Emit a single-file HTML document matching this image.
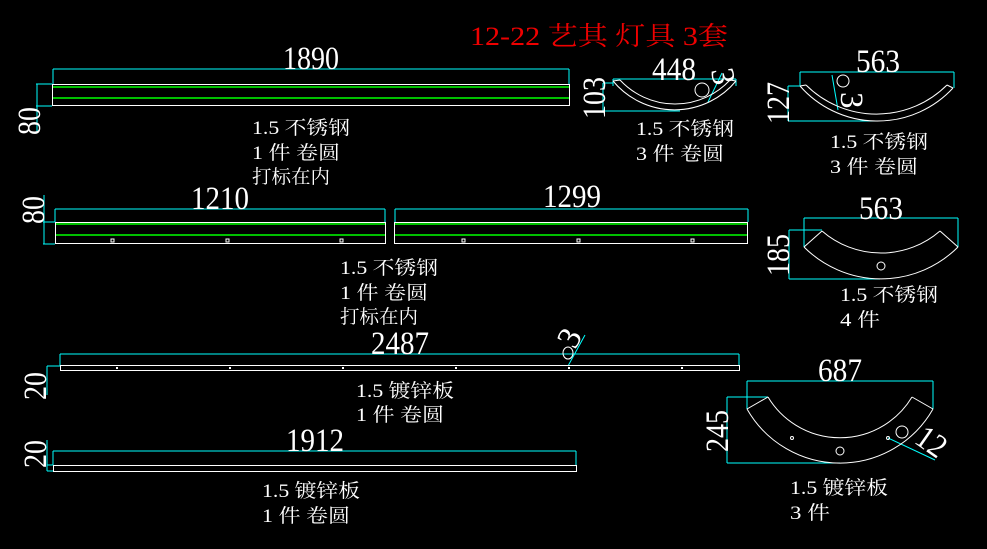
<!DOCTYPE html>
<html><head><meta charset="utf-8"><style>
html,body{margin:0;padding:0;background:#000;}
svg{display:block;}
.d{font-family:"Liberation Serif",serif;font-size:33px;fill:#fff;}
.t{font-family:"Liberation Serif","Noto Serif CJK SC",serif;font-size:19px;fill:#fff;}
.c{stroke:#0ff;stroke-width:1;fill:none;}
.w{stroke:#fff;stroke-width:1;fill:none;}
.g{stroke:#0f0;stroke-width:1.5;fill:none;}
</style></head><body>
<svg width="987" height="549" viewBox="0 0 987 549" xmlns="http://www.w3.org/2000/svg">
<rect width="987" height="549" fill="#000"/>
<text x="470" y="45" font-family="Liberation Serif,'Noto Serif CJK SC',serif" font-size="26" fill="#e00" textLength="258" lengthAdjust="spacingAndGlyphs">12-22 艺其 灯具 3套</text>

<!-- Part 1 -->
<path class="c" d="M53 69H569M53 69V84M569 69V84M36 84H52M36 106H52M37 84V133"/>
<rect class="w" x="52.5" y="84.5" width="517" height="21"/>
<path class="g" d="M53 87H569M53 98H569"/>
<text class="d" x="283" y="69" textLength="56" lengthAdjust="spacingAndGlyphs">1890</text>
<text class="d" transform="translate(40,135) rotate(-90)" textLength="28" lengthAdjust="spacingAndGlyphs">80</text>
<text class="t" x="252" y="134" textLength="98" lengthAdjust="spacingAndGlyphs">1.5 不锈钢</text>
<text class="t" x="252" y="159" textLength="88" lengthAdjust="spacingAndGlyphs">1 件 卷圆</text>
<text class="t" x="252" y="183" textLength="78" lengthAdjust="spacingAndGlyphs">打标在内</text>

<!-- Part 2 -->
<path class="c" d="M55 209H385M55 209V222M385 209V222M395 209H748M395 209V222M748 209V222M43 222H55M43 244H55M44 195V244"/>
<rect class="w" x="55.5" y="222.5" width="330" height="21"/>
<rect class="w" x="394.5" y="222.5" width="353" height="21"/>
<path class="g" d="M56 224H385M56 235H385M395 224H747M395 235H747"/>
<g fill="none" stroke="#fff" stroke-width="1">
<rect x="111" y="239" width="3" height="3"/><rect x="226" y="239" width="3" height="3"/><rect x="340" y="239" width="3" height="3"/>
<rect x="462" y="239" width="3" height="3"/><rect x="577" y="239" width="3" height="3"/><rect x="691" y="239" width="3" height="3"/>
</g>
<text class="d" x="191" y="209" textLength="58" lengthAdjust="spacingAndGlyphs">1210</text>
<text class="d" x="543" y="207" textLength="58" lengthAdjust="spacingAndGlyphs">1299</text>
<text class="d" transform="translate(44,224) rotate(-90)" textLength="28" lengthAdjust="spacingAndGlyphs">80</text>
<text class="t" x="340" y="274" textLength="98" lengthAdjust="spacingAndGlyphs">1.5 不锈钢</text>
<text class="t" x="340" y="299" textLength="88" lengthAdjust="spacingAndGlyphs">1 件 卷圆</text>
<text class="t" x="340" y="323" textLength="78" lengthAdjust="spacingAndGlyphs">打标在内</text>

<!-- Part 3 -->
<path class="c" d="M60 354H739M60 354V366M739 354V366M47 366H60M47 366V395M568 366L585 335"/>
<rect class="w" x="60.5" y="365.5" width="679" height="5"/>
<g fill="#fff"><rect x="116" y="367" width="2" height="2"/><rect x="229" y="367" width="2" height="2"/><rect x="342" y="367" width="2" height="2"/><rect x="455" y="367" width="2" height="2"/><rect x="568" y="367" width="2" height="2"/><rect x="681" y="367" width="2" height="2"/></g>
<ellipse class="w" cx="568" cy="353" rx="5" ry="6"/>
<text class="d" x="371" y="354" textLength="58" lengthAdjust="spacingAndGlyphs">2487</text>
<text class="d" transform="translate(579,343) rotate(-62)" text-anchor="middle" font-size="26">3</text>
<text class="d" transform="translate(46,400) rotate(-90)" textLength="28" lengthAdjust="spacingAndGlyphs">20</text>
<text class="t" x="356" y="397" textLength="98" lengthAdjust="spacingAndGlyphs">1.5 镀锌板</text>
<text class="t" x="356" y="421" textLength="88" lengthAdjust="spacingAndGlyphs">1 件 卷圆</text>

<!-- Part 4 -->
<path class="c" d="M53 451H576M53 451V465M576 451V465M47 440V471M47 465H53M47 471H53"/>
<rect class="w" x="53.5" y="465.5" width="523" height="6"/>
<text class="d" x="286" y="451" textLength="58" lengthAdjust="spacingAndGlyphs">1912</text>
<text class="d" transform="translate(46,468) rotate(-90)" textLength="28" lengthAdjust="spacingAndGlyphs">20</text>
<text class="t" x="262" y="497" textLength="98" lengthAdjust="spacingAndGlyphs">1.5 镀锌板</text>
<text class="t" x="262" y="522" textLength="88" lengthAdjust="spacingAndGlyphs">1 件 卷圆</text>

<!-- Part 5 -->
<path class="c" d="M613 79H736M613 79V86M736 79V86M603 83H613M603 111H680M603 83V111M708 102L722 73"/>
<path class="w" d="M613 81A80 80 0 0 0 736 81M620 80A75 75 0 0 0 730 80M613 81L620 80M736 81L730 80"/>
<circle class="w" cx="702" cy="90" r="7"/>
<text class="d" x="652" y="80" textLength="44" lengthAdjust="spacingAndGlyphs">448</text>
<text class="d" transform="translate(711,70) rotate(80)" font-size="26">3</text>
<text class="d" transform="translate(605,119) rotate(-90)" textLength="42" lengthAdjust="spacingAndGlyphs">103</text>
<text class="t" x="636" y="135" textLength="98" lengthAdjust="spacingAndGlyphs">1.5 不锈钢</text>
<text class="t" x="636" y="160" textLength="88" lengthAdjust="spacingAndGlyphs">3 件 卷圆</text>

<!-- Part 6 -->
<path class="c" d="M800 72H954M800 72V86M954 72V88M788 86H800M788 121H877M788 86V121M832 75L838 110"/>
<path class="w" d="M800 86A103 103 0 0 0 953 88M806 85A100 100 0 0 0 947 85M800 86L806 85M953 88L947 85"/>
<circle class="w" cx="843" cy="81" r="6"/>
<text class="d" x="856" y="72" textLength="44" lengthAdjust="spacingAndGlyphs">563</text>
<text class="d" transform="translate(841,92) rotate(90)" font-size="26">3</text>
<text class="d" transform="translate(789,124) rotate(-90)" textLength="42" lengthAdjust="spacingAndGlyphs">127</text>
<text class="t" x="830" y="148" textLength="98" lengthAdjust="spacingAndGlyphs">1.5 不锈钢</text>
<text class="t" x="830" y="173" textLength="88" lengthAdjust="spacingAndGlyphs">3 件 卷圆</text>

<!-- Part 7 -->
<path class="c" d="M804 218H958M804 218V247M958 218V247M789 230H822M789 279H880M789 230V279"/>
<path class="w" d="M804 247A109 109 0 0 0 958 247M822 231A90 90 0 0 0 940 231M804 247L822 231M958 247L940 231"/>
<circle class="w" cx="881" cy="266" r="4"/>
<text class="d" x="859" y="219" textLength="44" lengthAdjust="spacingAndGlyphs">563</text>
<text class="d" transform="translate(789,276) rotate(-90)" textLength="42" lengthAdjust="spacingAndGlyphs">185</text>
<text class="t" x="840" y="301" textLength="98" lengthAdjust="spacingAndGlyphs">1.5 不锈钢</text>
<text class="t" x="840" y="326" textLength="40" lengthAdjust="spacingAndGlyphs">4 件</text>

<!-- Part 8 -->
<path class="c" d="M747 381H933M747 381V409M933 381V409M727 397H768M727 463H840M727 397V463M888 438L935 460"/>
<path class="w" d="M747 409A107 107 0 0 0 933 409M768 397A84 84 0 0 0 912 397M747 409L768 397M933 409L912 397"/>
<circle class="w" cx="792" cy="438" r="1.5"/>
<circle class="w" cx="840" cy="451" r="4"/>
<circle class="w" cx="888" cy="438" r="1.5"/>
<circle class="w" cx="902" cy="432" r="6"/>
<text class="d" x="818" y="381" textLength="44" lengthAdjust="spacingAndGlyphs">687</text>
<text class="d" transform="translate(913,442) rotate(35)" font-size="30" textLength="30" lengthAdjust="spacingAndGlyphs">12</text>
<text class="d" transform="translate(728,452) rotate(-90)" textLength="42" lengthAdjust="spacingAndGlyphs">245</text>
<text class="t" x="790" y="494" textLength="98" lengthAdjust="spacingAndGlyphs">1.5 镀锌板</text>
<text class="t" x="790" y="519" textLength="40" lengthAdjust="spacingAndGlyphs">3 件</text>
</svg>
</body></html>
